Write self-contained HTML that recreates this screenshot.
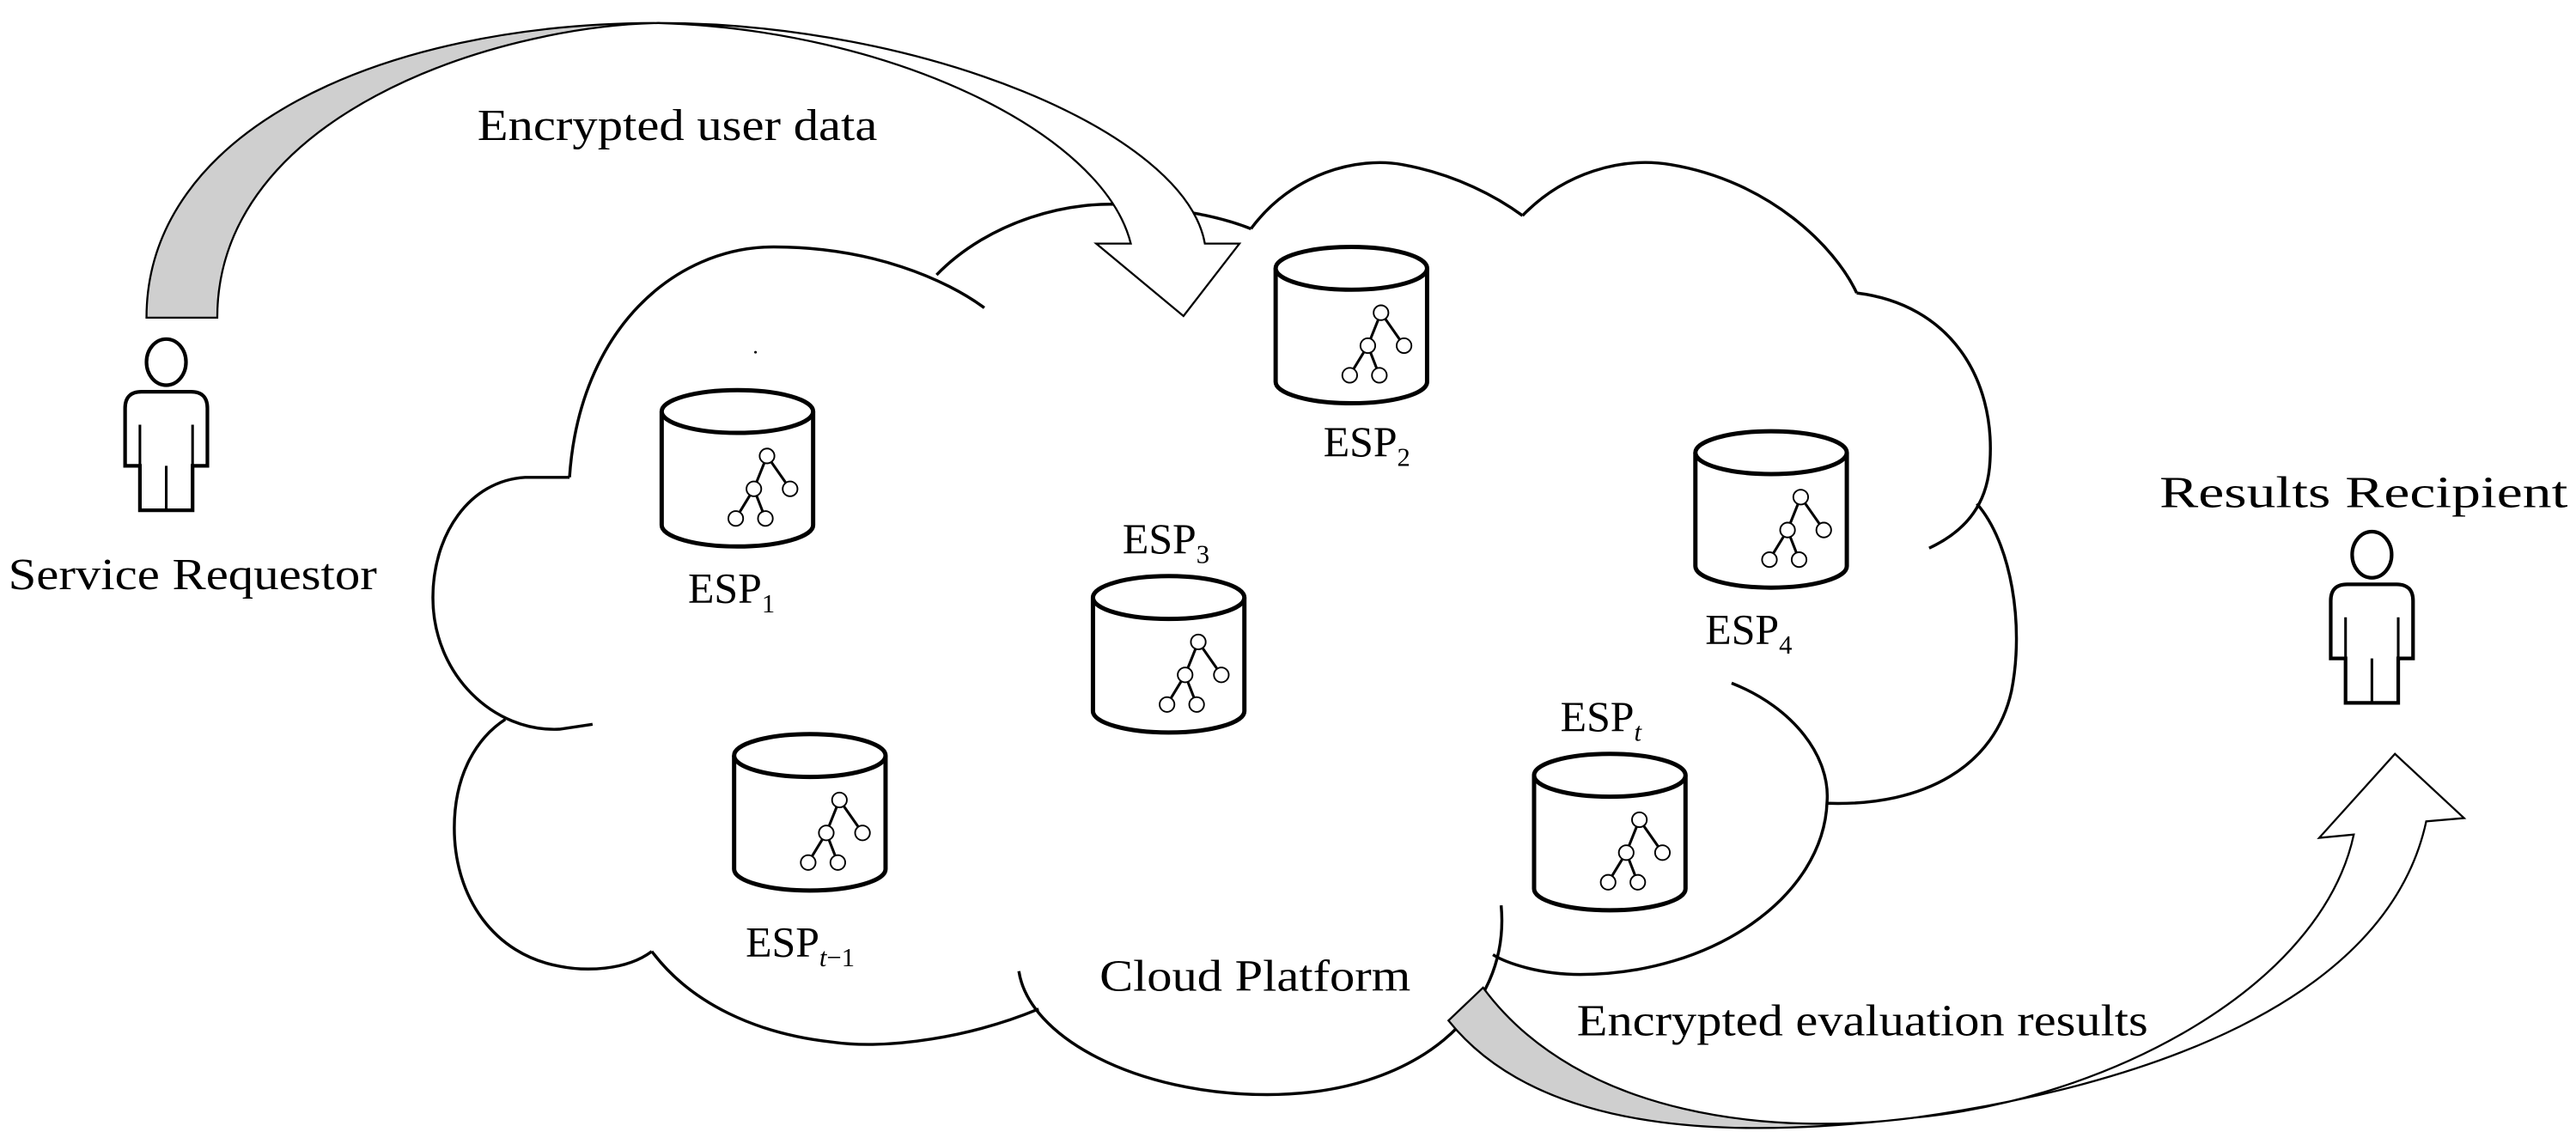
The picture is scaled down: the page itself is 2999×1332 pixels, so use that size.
<!DOCTYPE html>
<html><head><meta charset="utf-8"><style>
html,body{margin:0;padding:0;background:#fff;}
svg{display:block;}
text{font-family:"Liberation Serif",serif;fill:#000;}
</style></head><body>
<svg width="2999" height="1332" viewBox="0 0 1565 695" preserveAspectRatio="none" xmlns="http://www.w3.org/2000/svg">
<defs>
<g id="cyl">
<path d="M0,13 V82 A46,13 0 0 0 92,82 V13" fill="#fff" stroke="#000" stroke-width="2.6"/>
<ellipse cx="46" cy="13" rx="46" ry="13" fill="#fff" stroke="#000" stroke-width="2.6"/>
<path d="M64,40 L56,60 M64,40 L78,60 M56,60 L45,78 M56,60 L63,78" stroke="#000" stroke-width="1.6" fill="none"/>
<g fill="#fff" stroke="#000" stroke-width="1"><circle cx="64" cy="40" r="4.5"/><circle cx="56" cy="60" r="4.5"/><circle cx="78" cy="60" r="4.5"/><circle cx="45" cy="78" r="4.5"/><circle cx="63" cy="78" r="4.5"/></g>
</g>
<g id="person" fill="none" stroke="#000" stroke-width="2.2">
<ellipse cx="101" cy="220" rx="12" ry="14"/>
<path d="M76,283 V248 Q76,238 86,238 H116 Q126,238 126,248 V283 H117 V310 H85 V283 Z"/>
<path d="M85,258 V283 M117,258 V283 M101,283 V310" stroke-width="1.6"/>
</g>
</defs>

<!-- cloud -->
<g fill="none" stroke="#000" stroke-width="1.8">
<path d="M346,290 C352,200 410,150 470,150 C530,150 575,170 598,187"/>
<path d="M569,167 C600,135 650,120 690,125 C725,128 745,133 760,139"/>
<path d="M760,139 C785,105 825,95 852,100 C885,106 910,120 925,131"/>
<path d="M925,131 C950,105 985,95 1015,100 C1075,110 1115,150 1128,178"/>
<path d="M1128,178 C1185,185 1212,230 1209,280 C1208,300 1200,320 1172,333"/>
<path d="M1201,306 C1222,330 1230,380 1222,420 C1212,465 1170,490 1110,488"/>
<path d="M1052,415 C1090,430 1112,460 1110,487 C1108,545 1040,592 960,592 C935,592 915,585 907,580"/>
<path d="M912,550 C918,615 860,665 770,665 C690,665 625,630 619,590"/>
<path d="M631,613 C590,630 540,638 505,633 C460,628 420,610 396,578"/>
<path d="M396,578 C380,590 355,590 340,587 C300,580 276,545 276,503 C276,470 290,448 307,437"/>
<path d="M346,290 L319,290 C285,292 263,325 263,363 C263,410 300,445 340,443 L360,440"/>
</g>
<circle cx="459" cy="214" r="0.8" fill="#000"/>

<!-- top arrow -->
<path d="M89,193 C89,80 230,14 400,14 C300,16 132,70 132,193 Z" fill="#cfcfcf" stroke="#000" stroke-width="1.2"/>
<path d="M400,14 C560,14 720,80 732,148 L753,148 L719,192 L666,148 L687,148 C670,80 540,18 400,14 Z" fill="#fff" stroke="#000" stroke-width="1.2"/>

<!-- bottom arrow -->
<path d="M880,620 C940,695 1070,690 1163,679 C1080,690 960,680 901,600 Z" fill="#cfcfcf" stroke="#000" stroke-width="1.2"/>
<path d="M1163,679 C1300,660 1450,610 1474,499 L1497,497 L1455,458 L1409,509 L1430,507 C1410,600 1280,668 1163,679 Z" fill="#fff" stroke="#000" stroke-width="1.2"/>

<!-- cylinders -->
<use href="#cyl" x="402" y="237"/>
<use href="#cyl" x="775" y="150"/>
<use href="#cyl" x="664" y="350"/>
<use href="#cyl" x="1030" y="262"/>
<use href="#cyl" x="932" y="458"/>
<use href="#cyl" x="446" y="446"/>

<!-- persons -->
<use href="#person" x="0" y="0"/>
<use href="#person" x="1340" y="117"/>

<!-- labels -->
<g font-size="27">
<text x="290" y="85" textLength="243" lengthAdjust="spacingAndGlyphs">Encrypted user data</text>
<text x="5" y="358" textLength="224" lengthAdjust="spacingAndGlyphs">Service Requestor</text>
<text x="1312" y="308" textLength="248" lengthAdjust="spacingAndGlyphs">Results Recipient</text>
<text x="668" y="602" textLength="189" lengthAdjust="spacingAndGlyphs">Cloud Platform</text>
<text x="958" y="629" textLength="347" lengthAdjust="spacingAndGlyphs">Encrypted evaluation results</text>
</g>
<g font-size="26">
<text x="418" y="366">ESP<tspan font-size="16" dy="6">1</tspan></text>
<text x="804" y="277">ESP<tspan font-size="16" dy="6">2</tspan></text>
<text x="682" y="336">ESP<tspan font-size="16" dy="6">3</tspan></text>
<text x="1036" y="391">ESP<tspan font-size="16" dy="6">4</tspan></text>
<text x="948" y="444">ESP<tspan font-size="16" dy="6" font-style="italic">t</tspan></text>
<text x="453" y="581">ESP<tspan font-size="16" dy="6"><tspan font-style="italic">t</tspan>−1</tspan></text>
</g>
</svg>
</body></html>
